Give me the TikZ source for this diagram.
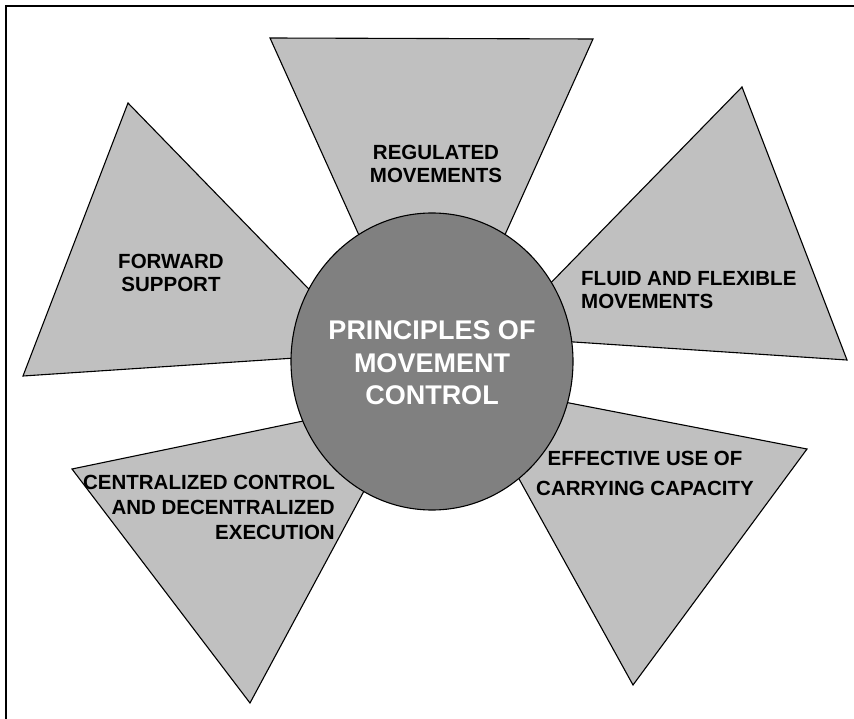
\documentclass[tikz,border=0pt]{standalone}
\usepackage{fontspec}
\setmainfont{Liberation Sans}
\usetikzlibrary{shapes.geometric}

\definecolor{bladegray}{HTML}{C0C0C0}
\definecolor{hubgray}{HTML}{808080}

\begin{document}
\begin{tikzpicture}[x=1pt, y=-1pt,
    blade/.style={fill=bladegray, draw=black, line width=1.1pt},
    bladetext/.style={font=\fontsize{20.5}{23}\selectfont\bfseries, align=center, inner sep=0pt},
    hubshape/.style={ellipse, fill=hubgray, draw=black, line width=1.1pt, inner sep=0pt,
        minimum width=282pt, minimum height=297pt},
    hubtext/.style={font=\fontsize{27}{32.5}\selectfont\bfseries, text=white, align=center, inner sep=0pt}]

    % Page of the original drawing
    \useasboundingbox (0,0) rectangle (854,719);

    % 1. Frame (only its top and left edges are inside the page)
    \draw[line width=1.8pt] (6,719) -- (6,6) -- (854,6);

    % 2. Outer corners of the five blades
    \coordinate (RegA) at (270,38);
    \coordinate (RegB) at (593,39);
    \coordinate (FwdA) at (128,103);
    \coordinate (FwdB) at (23,376);
    \coordinate (FluA) at (742,87);
    \coordinate (FluB) at (847,360);
    \coordinate (CenA) at (72,469);
    \coordinate (CenB) at (250,703);
    \coordinate (EffA) at (807,449);
    \coordinate (EffB) at (633,685);

    % Inner tips, where the blade edges meet (hidden behind the hub)
    \coordinate (RegTip) at (432,397);
    \coordinate (FwdTip) at (371,353);
    \coordinate (FluTip) at (498,337);
    \coordinate (CenTip) at (414,398);
    \coordinate (EffTip) at (466,383);

    % 3. Draw the blades
    \draw[blade] (RegA) -- (RegB) -- (RegTip) -- cycle;
    \draw[blade] (FwdA) -- (FwdTip) -- (FwdB) -- cycle;
    \draw[blade] (FluA) -- (FluB) -- (FluTip) -- cycle;
    \draw[blade] (CenA) -- (CenTip) -- (CenB) -- cycle;
    \draw[blade] (EffA) -- (EffB) -- (EffTip) -- cycle;

    % 4. The hub on top of the blade tips
    \node[hubshape] (hub) at (432,361.5) {};
    \node[hubtext] (hubtext) at (432,363) {PRINCIPLES OF\\MOVEMENT\\CONTROL};

    % 5. Blade labels
    \node[bladetext] (reg) at (436,164) {REGULATED\\MOVEMENTS};
    \node[bladetext] (fwd) at (171,273) {FORWARD\\SUPPORT};
    \node[bladetext, align=left, anchor=west] (flu) at (581,290) {FLUID AND FLEXIBLE\\MOVEMENTS};
    \node[bladetext, font=\fontsize{20.5}{25}\selectfont\bfseries, align=right, anchor=east] (cen) at (335,507)
        {CENTRALIZED CONTROL\\AND DECENTRALIZED\\EXECUTION};
    \node[bladetext, font=\fontsize{20.5}{30}\selectfont\bfseries] (eff) at (645,473)
        {EFFECTIVE USE OF\\CARRYING CAPACITY};

\end{tikzpicture}
\end{document}
